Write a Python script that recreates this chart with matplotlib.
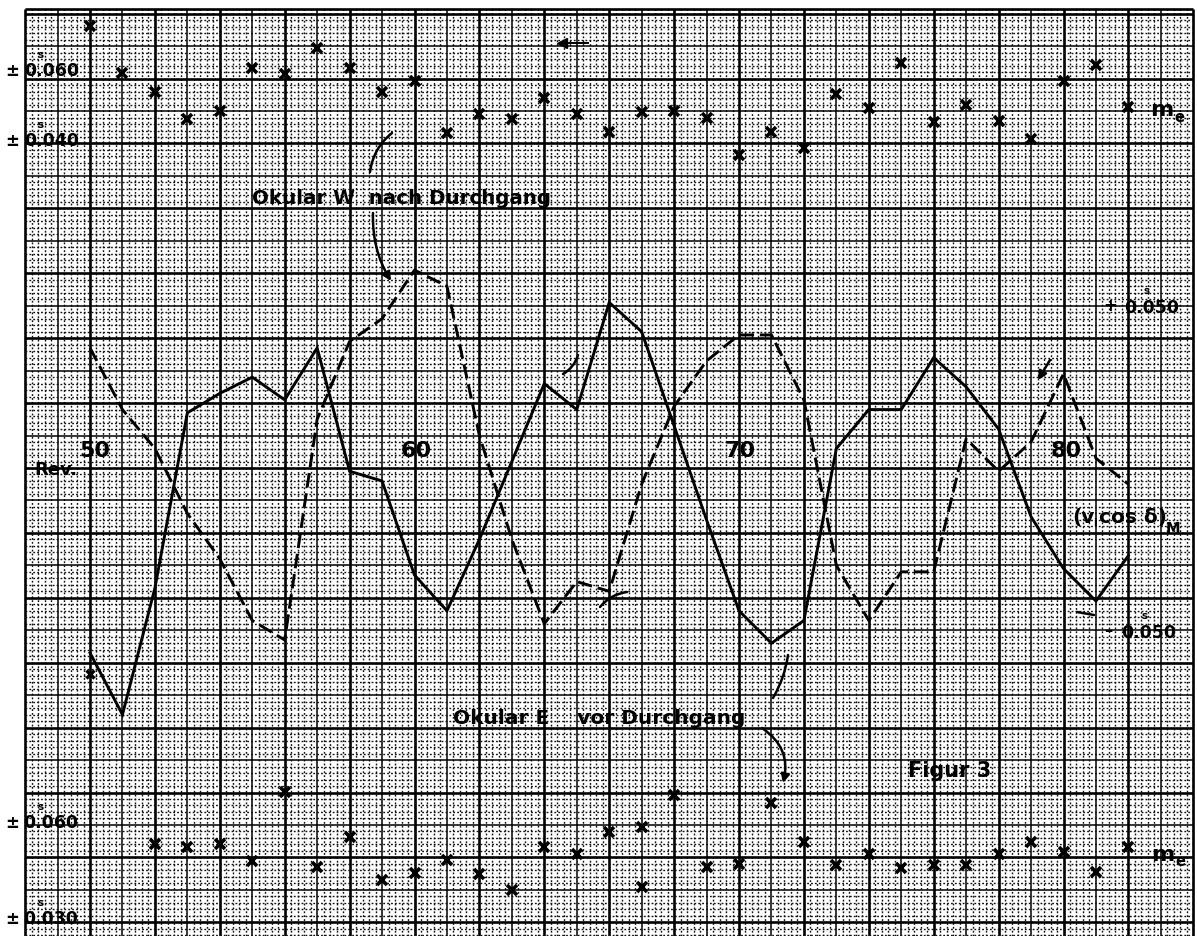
import matplotlib
matplotlib.use("Agg")
import matplotlib.pyplot as plt
import numpy as np

# ---------------------------------------------------------------------------
# Data (Figur 3)
# ---------------------------------------------------------------------------

revs = list(range(50, 83))

# (v cos d)_M, Okular E vor Durchgang -- solid curve [s]
okular_e = [-0.057, -0.076, -0.037, 0.017, 0.023, 0.028, 0.021, 0.037, -0.001, -0.004,
            -0.033, -0.044, -0.022, 0.002, 0.026, 0.018, 0.051, 0.042, 0.013, -0.016,
            -0.044, -0.054, -0.047, 0.006, 0.018, 0.018, 0.034, 0.025, 0.012, -0.015,
            -0.031, -0.041, -0.027]

# (v cos d)_M, Okular W nach Durchgang -- dashed curve [s]
okular_w = [0.037, 0.018, 0.006, -0.014, -0.028, -0.047, -0.053, 0.015, 0.039, 0.046,
            0.061, 0.056, 0.010, -0.022, -0.048, -0.035, -0.038, -0.005, 0.019, 0.033,
            0.041, 0.041, 0.021, -0.030, -0.047, -0.032, -0.032, 0.009, -0.001, 0.008,
            0.029, 0.003, -0.005]

# m_e, upper row (Okular W) [s]
me_top = [0.0718, 0.0589, 0.0537, 0.0463, 0.0485, 0.0603, 0.0586, 0.0658, 0.0603, 0.0537,
          0.0567, 0.0425, 0.0477, 0.0463, 0.0521, 0.0477, 0.0427, 0.0482, 0.0485, 0.0466,
          0.0364, 0.0427, 0.0384, 0.0532, 0.0493, 0.0616, 0.0455, 0.0501, 0.0458, 0.0408,
          0.0567, 0.0611, 0.0496]

# m_e, lower row (Okular E) [s]
me_bot_revs = list(range(52, 83))
me_bot = [0.0541, 0.0532, 0.0541, 0.0489, 0.0702, 0.0470, 0.0563, 0.0430, 0.0452, 0.0492,
          0.0449, 0.0400, 0.0532, 0.0510, 0.0578, 0.0594, 0.0692, 0.0470, 0.0480, 0.0668,
          0.0547, 0.0477, 0.0510, 0.0467, 0.0477, 0.0477, 0.0510, 0.0547, 0.0517, 0.0455,
          0.0532]

# stray marks
me_bot_extra_rev = [67]
me_bot_extra = [0.0409]
me_top_arrow_rev = [64.55, 65.35]
me_top_arrow = [0.0671, 0.0671]
mid_star_rev = [50]
mid_star = [-0.0635]

# ---------------------------------------------------------------------------
# Layout: every axes spans the whole sheet, each with its own value scale
# ---------------------------------------------------------------------------

W, H = 1197, 936
REV_LIM = (47.2265, 84.114)
MID_LIM = (-0.14422, 0.14422)
TOP_LIM = (-0.177534, 0.078904)
BOT_LIM = (0.02578, 0.31423)
FONT = "DejaVu Sans"

fig = plt.figure(figsize=(W / 100, H / 100), dpi=100)
fig.patch.set_facecolor("white")


def sheet_axes(ylim):
    ax = fig.add_axes([0, 0, 1, 1])
    ax.set_xlim(*REV_LIM)
    ax.set_ylim(*ylim)
    ax.set_axis_off()
    ax.patch.set_alpha(0)
    return ax


grid_ax = sheet_axes(MID_LIM)
mid_ax = sheet_axes(MID_LIM)
top_ax = sheet_axes(TOP_LIM)
bot_ax = sheet_axes(BOT_LIM)

# graph paper: 1 Rev = 0.010 s per cell, 5 fine divisions per cell
y_top = 0.1415
fine = dict(color="#111111", lw=1.0, linestyles=[(0, (1.3, 1.5))])
for r in np.arange(48.0, 84.001, 0.2):
    k = int(round(r * 5))
    if k % 10 == 0:
        grid_ax.vlines(r, MID_LIM[0], y_top, color="black", lw=1.9)
    elif k % 5 == 0:
        grid_ax.vlines(r, MID_LIM[0], y_top, color="black", lw=1.1)
    else:
        grid_ax.vlines(r, MID_LIM[0], y_top, **fine)
for k in range(-72, 71):
    v = k * 0.002
    if k % 10 == 0:
        grid_ax.hlines(v, 48.0, 84.0, color="black", lw=1.9)
    elif k % 5 == 0:
        grid_ax.hlines(v, 48.0, 84.0, color="black", lw=1.1)
    else:
        grid_ax.hlines(v, 48.0, 84.0, **fine)
grid_ax.hlines(y_top, 48.0, 84.0, color="black", lw=1.9)

# curves
mid_ax.plot(revs, okular_e, color="black", lw=2.1, solid_joinstyle="miter", zorder=3)
mid_ax.plot(revs, okular_w, color="black", lw=2.1, linestyle=(0, (5, 2.0)), zorder=3)
mid_ax.plot(mid_star_rev, mid_star, ls="none", marker="x", ms=6, mew=2.4, color="black")

# m_e rows
mk = dict(ls="none", marker="x", ms=6.5, mew=2.6, color="black", zorder=3)
top_ax.plot(revs, me_top, **mk)
bot_ax.plot(me_bot_revs, me_bot, **mk)
bot_ax.plot(me_bot_extra_rev, me_bot_extra, **mk)
top_ax.plot(me_top_arrow_rev, me_top_arrow, color="black", lw=1.4)
top_ax.plot(me_top_arrow_rev[:1], me_top_arrow[:1], ls="none", marker="<", ms=7, color="black")

# ---------------------------------------------------------------------------
# Lettering (pixel positions on the sheet)
# ---------------------------------------------------------------------------


def put(px, py, s, size=11, ha="left", va="center", **kw):
    fig.text(px / W, 1 - py / H, s, fontsize=size, ha=ha, va=va,
             family=FONT, fontweight="bold", **kw)


# left scales
put(5, 71, "±", 12)
put(24, 71, "0.060", 12.5)
put(37, 55, "s", 7.5)
put(5, 141, "±", 12)
put(24, 141, "0.040", 12.5)
put(37, 125, "s", 7.5)
put(5, 823, "±", 12)
put(23, 823, "0.060", 12.5)
put(37, 807, "s", 7.5)
put(5, 919, "±", 12)
put(23, 919, "0.030", 12.5)
put(37, 903, "s", 7.5)

# right scales
put(1110, 306, "+", 12, ha="center")
put(1124, 308, "0.050", 12.5)
put(1143, 291, "s", 7.5)
put(1108, 631, "–", 12, ha="center")
put(1121, 633, "0.050", 12.5)
put(1141, 616, "s", 7.5)

# revolution axis
put(34, 470, "Rev.", 13)
put(95, 451, "50", 16, ha="center")
put(416, 451, "60", 16, ha="center")
put(740, 451, "70", 16, ha="center")
put(1066, 451, "80", 16, ha="center")

# series labels
put(252, 199, "Okular W  nach Durchgang", 14.3)
put(453, 719, "Okular E    vor Durchgang", 14.5)
put(908, 771, "Figur 3", 15)
put(1072, 517, "(v", 14.5)
put(1093, 523, "i", 8)
put(1099, 517, "cos δ)", 14.5)
put(1166, 530, "M", 10.5)
put(1150, 110, "m", 16)
put(1174, 117, "e", 10.5)
put(1151, 855, "m", 16)
put(1175, 861, "e", 10.5)


# leader lines
def lead(x0, y0, x1, y1, rad=0.0, style="-", lw=1.8):
    grid_ax.annotate("", xy=(x1, H - y1), xycoords="figure pixels",
                     xytext=(x0, H - y0), textcoords="figure pixels",
                     arrowprops=dict(arrowstyle=style, lw=lw, color="black",
                                     shrinkA=0, shrinkB=0,
                                     connectionstyle=f"arc3,rad={rad}"))


lead(370, 172, 392, 133, rad=-0.2)
lead(373, 213, 391, 281, rad=0.15, style="-|>,head_length=0.5,head_width=0.25")
lead(773, 698, 788, 655, rad=0.1)
lead(762, 728, 783, 783, rad=-0.35, style="-|>,head_length=0.5,head_width=0.25")
lead(563, 374, 578, 355, rad=0.2)
lead(600, 607, 627, 592, rad=-0.2)
lead(1050, 360, 1038, 380, rad=0.0, style="-|>,head_length=0.5,head_width=0.25")
lead(1077, 612, 1094, 615, rad=0.0)

fig.savefig("out.png", dpi=100, facecolor="white")
